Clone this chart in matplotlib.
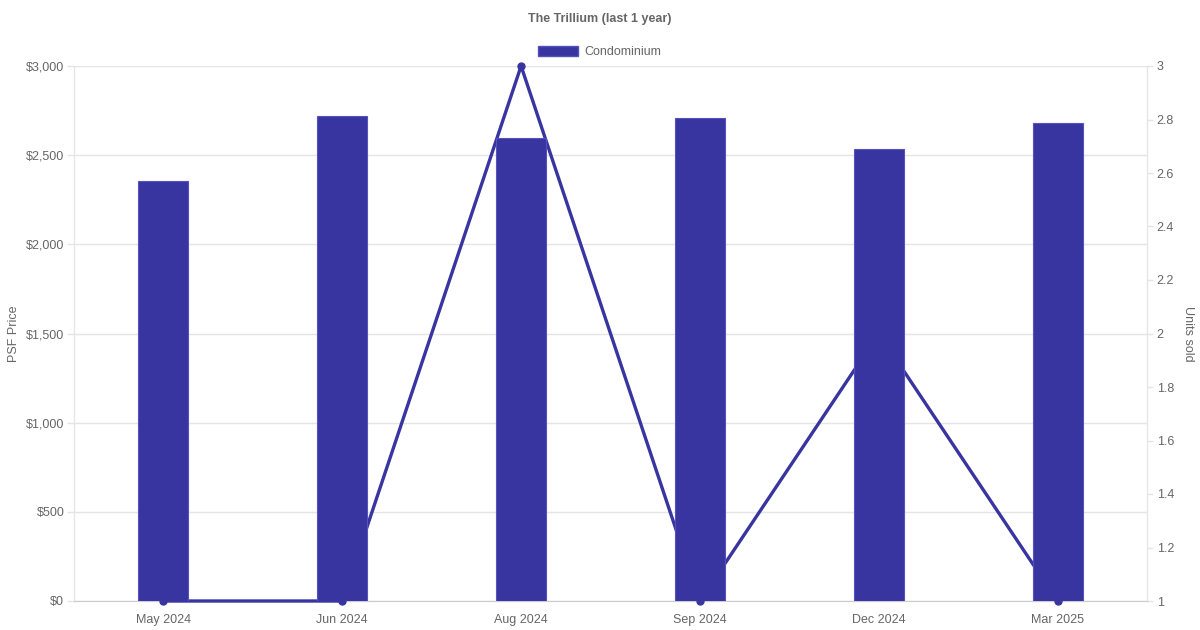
import matplotlib as mpl
import matplotlib.pyplot as plt
from matplotlib.patches import Patch
from matplotlib.ticker import FuncFormatter, MultipleLocator

months = ['May 2024', 'Jun 2024', 'Aug 2024', 'Sep 2024', 'Dec 2024', 'Mar 2025']
psf_price = [2355, 2718, 2596, 2708, 2535, 2678]
units_sold = [1, 1, 3, 1, 2, 1]

bar_colour = '#3935a0'
text_colour = '#666666'
grid_colour = '#e5e5e5'

mpl.rcParams['font.family'] = ['Liberation Sans', 'DejaVu Sans']

fig = plt.figure(figsize=(12, 6.3), dpi=100)
ax1 = fig.add_axes([74 / 1200, 1 - 601 / 630, (1147 - 74) / 1200, (601 - 66) / 630])
ax2 = ax1.twinx()

ax1.set_xlim(-0.5, len(months) - 0.5)
ax1.set_ylim(0, 3000)
ax2.set_ylim(1, 3)

x = list(range(len(months)))
ax1.bar(x, psf_price, width=0.28, color=bar_colour, edgecolor='#5552c0',
        linewidth=0.8, zorder=3)
# line lives in ax1 (above the grid, below the bars) but uses ax2's scale
ax1.plot(x, units_sold, color=bar_colour, linewidth=2.4, marker='o',
         markersize=5, clip_on=False, zorder=2.8, transform=ax2.transData)

ax1.set_zorder(ax2.get_zorder() + 1)
ax1.patch.set_visible(False)

ax1.yaxis.set_major_locator(MultipleLocator(500))
ax2.yaxis.set_major_locator(MultipleLocator(0.2))
ax1.yaxis.set_major_formatter(FuncFormatter(lambda v, p: '${:,.0f}'.format(v)))
ax2.yaxis.set_major_formatter(FuncFormatter(lambda v, p: '{:g}'.format(round(v, 1))))

ax1.set_xticks(x)
ax1.set_xticklabels(months)
for lab in ax1.get_xticklabels():
    lab.set_verticalalignment('baseline')
ax1.yaxis.grid(True, color=grid_colour, linewidth=1, zorder=0)
ax1.set_axisbelow(True)

for ax in (ax1, ax2):
    for side in ('top', 'left', 'right'):
        ax.spines[side].set_color(grid_colour)
    ax.spines['top'].set_visible(False)
    ax.spines['bottom'].set_color('#cccccc')
    ax.tick_params(axis='both', colors=grid_colour, labelcolor=text_colour,
                   labelsize=9, length=5, width=1)
ax1.tick_params(axis='x', length=0, pad=16)
ax1.tick_params(axis='y', pad=2)
ax2.tick_params(axis='y', length=4, pad=3)

ax1.set_ylabel('PSF Price', color=text_colour, fontsize=9, labelpad=4)
ax2.set_ylabel('Units sold', color=text_colour, fontsize=9, rotation=270,
               labelpad=14)

fig.text(0.5, 1 - 19 / 630, 'The Trillium (last 1 year)', ha='center',
         va='center', color=text_colour, fontsize=9, fontweight='bold')

legend_handles = [Patch(facecolor=bar_colour, edgecolor='#5552c0',
                        label='Condominium')]
fig.legend(handles=legend_handles, loc='center', bbox_to_anchor=(0.5, 1 - 52 / 630),
           frameon=False, fontsize=9, labelcolor=text_colour,
           handlelength=3.2, handleheight=0.9, handletextpad=0.5)

fig.savefig('out.png', dpi=100)
